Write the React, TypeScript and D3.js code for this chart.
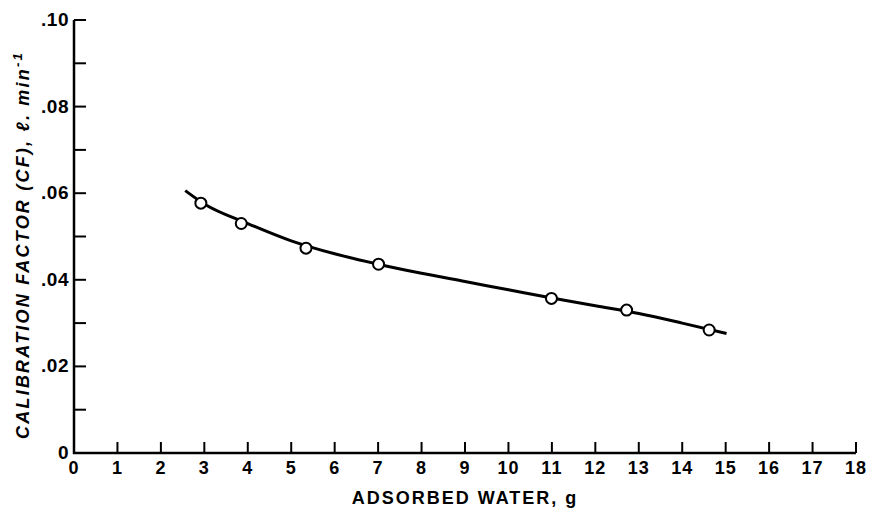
import React from "react";
import * as d3 from "d3";

const W = 870;
const H = 514;

// Measured data points (adsorbed water g, calibration factor)
const pointX = [2.92, 3.85, 5.34, 7.01, 10.99, 12.72, 14.62];
const pointY = [0.0577, 0.053, 0.0473, 0.0436, 0.0357, 0.033, 0.0284];

// Smooth fitted curve
const curveX = [2.56, 3, 4, 5, 6, 7, 8, 9, 10, 11, 12, 13, 14, 15.02];
const curveY = [0.0606, 0.0575, 0.053, 0.049, 0.046, 0.0436, 0.0415, 0.0396, 0.0377, 0.0358, 0.034, 0.0322, 0.03, 0.0276];

const xTicks = d3.range(0, 19);
const yTicksMajor = [0, 0.02, 0.04, 0.06, 0.08, 0.1];
const yTickLabels = ["0", ".02", ".04", ".06", ".08", ".10"];
const yTicksAll = d3.range(0, 11).map((i) => i * 0.01);

const FONT = "'Liberation Sans', Arial, sans-serif";

export default function App() {
  const x = d3.scaleLinear().domain([0, 18]).range([74, 856]);
  const y = d3.scaleLinear().domain([0, 0.1]).range([453, 20]);
  const line = d3
    .line<number>()
    .x((_, i) => x(curveX[i]))
    .y((d) => y(d))
    .curve(d3.curveMonotoneX);

  const x0 = x(0);
  const y0 = y(0);

  return (
    <svg width={W} height={H} style={{ position: "absolute", left: 0, top: 0, background: "#fff" }}>
      <rect width={W} height={H} fill="#fff" />
      {/* axes */}
      <line x1={x0} y1={y(0.1)} x2={x0} y2={y0 + 1} stroke="#000" strokeWidth={2.5} />
      <line x1={x0 - 1} y1={y0} x2={x(18)} y2={y0} stroke="#000" strokeWidth={2.5} />
      {/* y ticks */}
      {yTicksAll.map((t) =>
        t === 0 ? null : (
          <line key={"yt" + t} x1={x0} x2={x0 + 12} y1={y(t)} y2={y(t)} stroke="#000" strokeWidth={2} />
        )
      )}
      {yTicksMajor.map((t, i) => (
        <text
          key={"yl" + t}
          x={x0 - 5}
          y={y(t) + 6}
          textAnchor="end"
          fontFamily={FONT}
          fontWeight="bold"
          fontSize={19}
          letterSpacing={0.5}
        >
          {yTickLabels[i]}
        </text>
      ))}
      {/* x ticks */}
      {xTicks.map((t) =>
        t === 0 ? null : (
          <line key={"xt" + t} x1={x(t)} x2={x(t)} y1={y0} y2={y0 - 11} stroke="#000" strokeWidth={2} />
        )
      )}
      {xTicks.map((t) => (
        <text
          key={"xl" + t}
          x={x(t)}
          y={y0 + 21}
          textAnchor="middle"
          fontFamily={FONT}
          fontWeight="bold"
          fontSize={18}
          letterSpacing={1}
        >
          {String(t)}
        </text>
      ))}
      {/* axis titles */}
      <text
        x={465}
        y={504}
        textAnchor="middle"
        fontFamily={FONT}
        fontWeight="bold"
        fontSize={18}
        letterSpacing={2}
      >
        ADSORBED WATER, g
      </text>
      <text
        transform="translate(29,245) rotate(-90)"
        textAnchor="middle"
        fontFamily={FONT}
        fontWeight="bold"
        fontStyle="italic"
        fontSize={18}
        letterSpacing={2.2}
      >
        CALIBRATION FACTOR (CF), ℓ. min
        <tspan dy={-7} fontSize={13}>-1</tspan>
      </text>
      {/* curve */}
      <path d={line(curveY) || ""} fill="none" stroke="#000" strokeWidth={3} />
      {/* points */}
      {pointX.map((px, i) => (
        <circle key={"p" + i} cx={x(px)} cy={y(pointY[i])} r={5.5} fill="#fff" stroke="#000" strokeWidth={2} />
      ))}
    </svg>
  );
}
